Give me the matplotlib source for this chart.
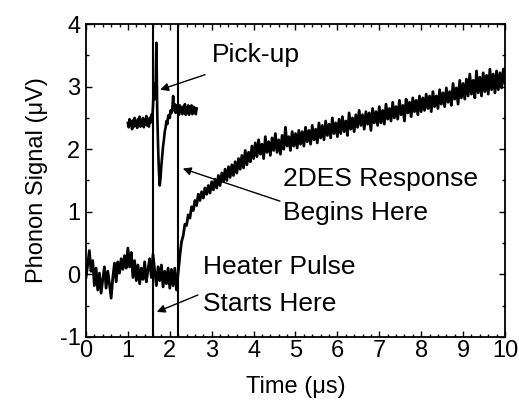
import numpy as np
import matplotlib
matplotlib.use("Agg")
from matplotlib import pyplot as plt
from matplotlib.ticker import MultipleLocator

# main trace, sampled every 0.04 us from 0 to 10 us
sig_main = [
    -0.05, 0.15, 0.38, 0.05, 0.22, -0.18, 0.10, -0.25, 0.02, -0.30,
    -0.08, 0.12, -0.22, 0.05, -0.15, -0.38, -0.05, 0.18, -0.12, 0.20,
    0.02, 0.25, 0.08, 0.30, 0.10,
    0.42, 0.12, 0.35, -0.05, 0.22, -0.10, 0.15, -0.15, 0.10, -0.08,
    0.20, -0.12, 0.08, 0.25, -0.05, 0.32, 0.05, -0.18, 0.12, -0.10,
    0.15, -0.20, 0.05, -0.15, 0.10,
    -0.22, 0.08, -0.18, 0.10, -0.25, 0.02, 0.30, 0.52, 0.62, 0.80,
    0.78, 0.95, 0.90, 1.08, 1.02, 1.18, 1.10, 1.28, 1.18, 1.32,
    1.22, 1.38, 1.28, 1.42, 1.30,
    1.48, 1.35, 1.52, 1.38, 1.58, 1.42, 1.62, 1.48, 1.68, 1.50,
    1.72, 1.55, 1.75, 1.58, 1.80, 1.62, 1.85, 1.68, 1.90, 1.70,
    1.98, 1.75, 1.95, 1.80, 2.05,
    1.85, 2.10, 1.88, 2.15, 1.92, 2.08, 1.85, 2.20, 1.95, 2.12,
    1.90, 2.18, 1.98, 2.25, 1.95, 2.15, 1.92, 2.22, 2.00, 2.35,
    2.05, 2.20, 1.98, 2.28, 2.05,
    2.25, 2.02, 2.30, 2.08, 2.28, 2.05, 2.35, 2.12, 2.30, 2.08,
    2.38, 2.15, 2.32, 2.10, 2.42, 2.18, 2.38, 2.15, 2.45, 2.22,
    2.40, 2.18, 2.50, 2.25, 2.42,
    2.20, 2.48, 2.25, 2.52, 2.28, 2.45, 2.22, 2.58, 2.32, 2.50,
    2.28, 2.55, 2.35, 2.62, 2.38, 2.55, 2.32, 2.60, 2.40, 2.58,
    2.30, 2.65, 2.42, 2.60, 2.38,
    2.68, 2.42, 2.62, 2.40, 2.72, 2.48, 2.65, 2.45, 2.75, 2.50,
    2.68, 2.48, 2.78, 2.55, 2.70, 2.45, 2.80, 2.58, 2.75, 2.52,
    2.82, 2.60, 2.78, 2.55, 2.85,
    2.60, 2.82, 2.62, 2.88, 2.65, 2.85, 2.60, 2.92, 2.68, 2.85,
    2.65, 2.95, 2.72, 2.90, 2.68, 2.98, 2.75, 2.92, 2.70, 3.05,
    2.80, 2.98, 2.72, 3.10, 2.82,
    3.05, 2.80, 3.12, 2.85, 3.20, 2.88, 3.10, 2.82, 3.25, 2.90,
    3.15, 2.85, 3.22, 2.92, 3.18, 2.88, 3.28, 2.95, 3.20, 2.90,
    3.25, 2.95, 3.22, 2.98, 3.28, 3.05,
]
t_main = 0.04 * np.arange(len(sig_main))

# pick-up trace, sampled every 0.02 us starting at 1.0 us
sig_pick = [
    2.42, 2.35, 2.48, 2.38, 2.45, 2.32, 2.46, 2.36, 2.50, 2.38,
    2.44, 2.34, 2.48, 2.40, 2.52, 2.36, 2.46, 2.38, 2.50, 2.35,
    2.47, 2.40, 2.53, 2.38, 2.48, 2.36, 2.50, 2.42, 2.55, 2.45,
    2.70, 3.05, 2.80, 2.95, 3.70, 2.60, 2.05, 1.65, 1.42, 1.55,
    1.75, 1.90, 2.05, 2.15, 2.28, 2.35, 2.45, 2.40, 2.52, 2.55,
    2.50, 2.62, 2.58, 2.65, 2.85, 2.62, 2.72, 2.58, 2.70, 2.60,
    2.68, 2.55, 2.70, 2.60, 2.66, 2.56, 2.68, 2.58, 2.72, 2.55,
    2.66, 2.58, 2.70, 2.55, 2.68, 2.60, 2.70, 2.56, 2.68, 2.58,
    2.66, 2.56, 2.65,
]
t_pick = 1.0 + 0.02 * np.arange(len(sig_pick))

# heater pulse window
pulse_start = 1.6
pulse_end = 2.2

plt.rcParams['font.family'] = ['Liberation Sans', 'DejaVu Sans']
plt.rcParams['axes.unicode_minus'] = False

fig = plt.figure(figsize=(5.19, 4.05), dpi=100)
ax = fig.add_axes([0.1657, 0.168, 0.8073, 0.7727])

ax.plot(t_main, sig_main, color='black', lw=2.0)
ax.plot(t_pick, sig_pick, color='black', lw=1.9)
ax.axvline(pulse_start, color='black', lw=1.5)
ax.axvline(pulse_end, color='black', lw=1.5)

ax.set_xlim(0, 10)
ax.set_ylim(-1, 4)
ax.xaxis.set_major_locator(MultipleLocator(1))
ax.xaxis.set_minor_locator(MultipleLocator(0.2))
ax.yaxis.set_major_locator(MultipleLocator(1))
ax.yaxis.set_minor_locator(MultipleLocator(0.5))
ax.tick_params(which='both', direction='in', top=True, right=True,
               width=1.0, labelsize=17)
ax.tick_params(which='major', length=4.5)
ax.tick_params(which='minor', length=2.5)
ax.tick_params(axis='x', pad=2)
ax.tick_params(axis='y', pad=4)
for s in ax.spines.values():
    s.set_linewidth(1.3)

ax.set_xlabel('Time (μs)', fontsize=17, labelpad=10)
ax.set_ylabel('Phonon Signal (μV)', fontsize=17, labelpad=8)

arrow = dict(arrowstyle='-|>', color='black', lw=1.0,
             mutation_scale=12, shrinkA=0, shrinkB=0)
ax.text(3.0, 3.32, 'Pick-up', fontsize=19, va='bottom', ha='left')
ax.annotate('', xy=(1.77, 2.95), xytext=(2.84, 3.19), arrowprops=arrow)

ax.text(4.7, 1.33, '2DES Response', fontsize=19, va='bottom', ha='left')
ax.text(4.7, 0.79, 'Begins Here', fontsize=19, va='bottom', ha='left')
ax.annotate('', xy=(2.31, 1.69), xytext=(4.63, 1.17), arrowprops=arrow)

ax.text(2.8, -0.07, 'Heater Pulse', fontsize=19, va='bottom', ha='left')
ax.text(2.8, -0.66, 'Starts Here', fontsize=19, va='bottom', ha='left')
ax.annotate('', xy=(1.69, -0.60), xytext=(2.67, -0.33), arrowprops=arrow)

fig.savefig('out.png', dpi=100)
